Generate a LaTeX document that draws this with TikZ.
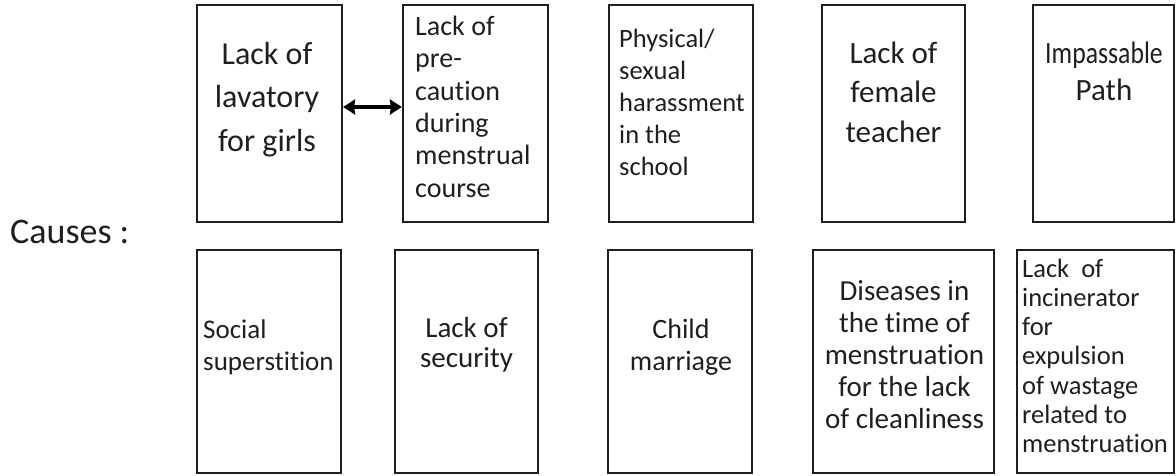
\documentclass[tikz,border=0pt]{standalone}
\usepackage{fontspec}
\setmainfont{Carlito}[Ligatures={NoCommon}]
\usetikzlibrary{arrows.meta}
\newcommand{\firstl}{\rule{0pt}{0.8em}}
\begin{document}
\begin{tikzpicture}[x=1pt,y=-1pt,
  box/.style={draw=black!88, line width=2.2pt, inner sep=0pt, minimum height=217pt},
  boxlow/.style={box, minimum height=223pt},
  txt/.style={inner sep=0pt, text=black!88},
  dbl/.style={draw=black, line width=3.8pt, arrows={Stealth[length=12pt,width=15pt,inset=1pt]-Stealth[length=12pt,width=15pt,inset=1pt]}}
]
\useasboundingbox (0,0) rectangle (1176,475);
% top row boxes
\node[box, minimum width=145pt] (b1) at (269.5,113.5) {};
\node[box, minimum width=145pt] (b2) at (475.5,113.5) {};
\node[box, minimum width=144pt] (b3) at (681,113.5) {};
\node[box, minimum width=143pt] (b4) at (893.5,113.5) {};
\node[box, minimum width=141pt] (b5) at (1103.5,113.5) {};
% bottom row boxes
\node[boxlow, minimum width=144pt] (b6) at (269,361.5) {};
\node[boxlow, minimum width=143pt] (b7) at (466.5,361.5) {};
\node[boxlow, minimum width=144pt] (b8) at (680,361.5) {};
\node[boxlow, minimum width=181pt] (b9) at (903.5,361.5) {};
\node[boxlow, minimum width=157pt] (b10) at (1095.5,361.5) {};
% texts
\node[txt, anchor=north, align=center, font=\fontsize{32}{43.5}\selectfont] (t1) at (267,38.4)
  {\firstl Lack of\\lavatory\\for girls};
\node[txt, anchor=north west, align=left, font=\fontsize{28}{32.4}\selectfont] (t2) at (415,12.6)
  {\firstl Lack of\\pre-\\caution\\during\\menstrual\\course};
\node[txt, anchor=north west, align=left, font=\fontsize{26.5}{32}\selectfont] (t3) at (619,25.8)
  {\firstl Physical/\\sexual\\harassment\\in the\\school};
\node[txt, anchor=north, align=center, font=\fontsize{31}{39.5}\selectfont] (t4) at (893.5,38.2)
  {\firstl Lack of\\female\\teacher};
\node[txt, anchor=north, align=center, font=\fontsize{31}{37}\selectfont] (t5) at (1104,38.2)
  {\firstl\scalebox{0.83}[1]{Impassable}\\Path};
\node[txt, anchor=base west, font=\fontsize{36}{40}\selectfont] (causes) at (10,243) {Causes :};
\node[txt, anchor=north west, align=left, font=\fontsize{27}{32}\selectfont] (t6) at (203,316.4)
  {\firstl Social\\superstition};
\node[txt, anchor=north, align=center, font=\fontsize{29}{30}\selectfont] (t7) at (466.5,313.8)
  {\firstl Lack of\\security};
\node[txt, anchor=north, align=center, font=\fontsize{28}{32}\selectfont] (t8) at (681,315.6)
  {\firstl Child\\marriage};
\node[txt, anchor=north, align=center, font=\fontsize{29}{32}\selectfont] (t9) at (904.5,276.8)
  {\firstl Diseases in\\the time of\\menstruation\\for the lack\\of cleanliness};
\node[txt, anchor=north west, align=left, font=\fontsize{26.5}{29.2}\selectfont] (t10) at (1022,255.8)
  {\firstl Lack\ \ of\\incinerator\\for\\expulsion\\of wastage\\related to\\menstruation};
% connector
\draw[dbl] ([yshift=6.5pt]b1.east) -- ([yshift=6.5pt]b2.west);
\end{tikzpicture}
\end{document}
